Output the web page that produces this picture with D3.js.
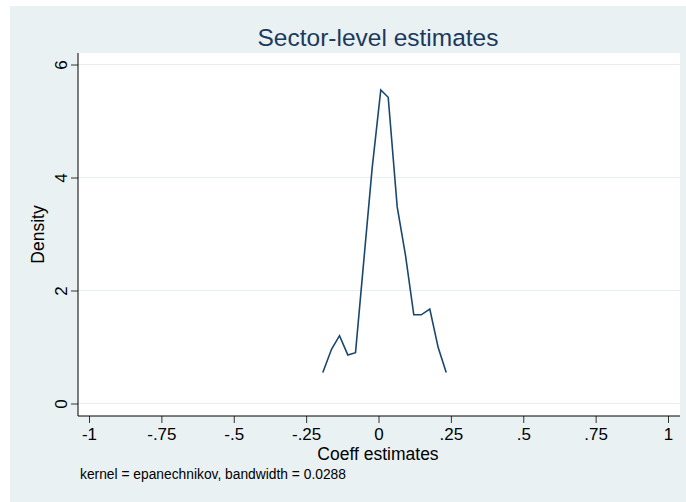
<!DOCTYPE html>
<html>
<head>
<meta charset="utf-8">
<script src="https://cdn.jsdelivr.net/npm/d3@7"></script>
<style>
  body { margin: 0; background: #fff; }
  text { font-family: "Liberation Sans", Arial, sans-serif; }
</style>
</head>
<body>
<div id="chart"></div>
<script>
// kernel density estimate
const coeff = [-0.1924, -0.1623, -0.1347, -0.1060, -0.0794, -0.0518, -0.0218, 0.0079,
  0.0335, 0.0646, 0.0933, 0.1219, 0.1475, 0.1772, 0.2062, 0.2339];
const density = [0.55, 0.96, 1.20, 0.86, 0.90, 2.47, 4.17, 5.55,
  5.42, 3.48, 2.62, 1.57, 1.57, 1.67, 0.99, 0.55];

const xTicks = [-1, -0.75, -0.5, -0.25, 0, 0.25, 0.5, 0.75, 1];
const xTickLabels = ["-1", "-.75", "-.5", "-.25", "0", ".25", ".5", ".75", "1"];
const yTicks = [0, 2, 4, 6];
const yTickLabels = ["0", "2", "4", "6"];

const titleText = "Sector-level estimates";
const xTitle = "Coeff estimates";
const yTitle = "Density";
const noteText = "kernel = epanechnikov, bandwidth = 0.0288";

const W = 686, H = 502;
// plot region
const plot = {left: 78, right: 680, top: 53, bottom: 416};

const svg = d3.select("#chart").append("svg")
  .attr("width", W)
  .attr("height", H);

// graph region background
svg.append("rect")
  .attr("x", 10).attr("y", 6)
  .attr("width", W - 10).attr("height", H - 6)
  .attr("fill", "#eaf1f3");

svg.append("rect")
  .attr("x", plot.left).attr("y", plot.top)
  .attr("width", plot.right - plot.left).attr("height", plot.bottom - plot.top)
  .attr("fill", "#ffffff");

const x = d3.scaleLinear().domain([-1, 1]).range([89, 668]);
const y = d3.scaleLinear().domain([0, 6]).range([403.5, 64.5]);

// gridlines
svg.append("g").selectAll("line")
  .data(yTicks)
  .enter().append("line")
  .attr("x1", plot.left).attr("x2", plot.right)
  .attr("y1", d => y(d)).attr("y2", d => y(d))
  .attr("stroke", "#e6eef1")
  .attr("stroke-width", 1.2);

// density line
const line = d3.line()
  .x((d, i) => x(coeff[i]))
  .y(d => y(d));

svg.append("path")
  .datum(density)
  .attr("d", line)
  .attr("fill", "none")
  .attr("stroke", "#1a476f")
  .attr("stroke-width", 1.6)
  .attr("stroke-linejoin", "miter");

// x axis
const xAxis = d3.axisBottom(x)
  .tickValues(xTicks)
  .tickFormat((d, i) => xTickLabels[i])
  .tickSize(7)
  .tickSizeOuter(0)
  .tickPadding(5);

const xAxisG = svg.append("g")
  .attr("transform", `translate(0, ${plot.bottom})`)
  .call(xAxis);
xAxisG.select(".domain").remove();
xAxisG.append("line")
  .attr("x1", plot.left).attr("x2", plot.right)
  .attr("y1", 0).attr("y2", 0)
  .attr("stroke", "#000");
xAxisG.selectAll(".tick line").attr("stroke", "#333");
xAxisG.selectAll("text")
  .attr("font-size", 17)
  .attr("fill", "#000");

// y axis
const yAxis = d3.axisLeft(y)
  .tickValues(yTicks)
  .tickFormat((d, i) => yTickLabels[i])
  .tickSize(7)
  .tickSizeOuter(0);

const yAxisG = svg.append("g")
  .attr("transform", `translate(${plot.left}, 0)`)
  .call(yAxis);
yAxisG.select(".domain").remove();
yAxisG.append("line")
  .attr("x1", 0).attr("x2", 0)
  .attr("y1", plot.top).attr("y2", plot.bottom)
  .attr("stroke", "#000");
yAxisG.selectAll(".tick line").attr("stroke", "#333");
yAxisG.selectAll("text")
  .attr("font-size", 17)
  .attr("fill", "#000")
  .attr("x", 0).attr("dy", null)
  .attr("text-anchor", "middle")
  .attr("transform", "translate(-11, 0) rotate(-90)")
  .attr("y", 0);

// titles
svg.append("text")
  .attr("x", 378)
  .attr("y", 46)
  .attr("text-anchor", "middle")
  .attr("font-size", 24.5)
  .attr("fill", "#1c3a5c")
  .text(titleText);

svg.append("text")
  .attr("x", 378)
  .attr("y", 460)
  .attr("text-anchor", "middle")
  .attr("font-size", 17.5)
  .attr("fill", "#000")
  .text(xTitle);

svg.append("text")
  .attr("transform", `translate(44, ${(plot.top + plot.bottom) / 2}) rotate(-90)`)
  .attr("text-anchor", "middle")
  .attr("font-size", 17.5)
  .attr("fill", "#000")
  .text(yTitle);

svg.append("text")
  .attr("x", 80)
  .attr("y", 479)
  .attr("font-size", 13.8)
  .attr("fill", "#000")
  .text(noteText);
</script>
</body>
</html>
